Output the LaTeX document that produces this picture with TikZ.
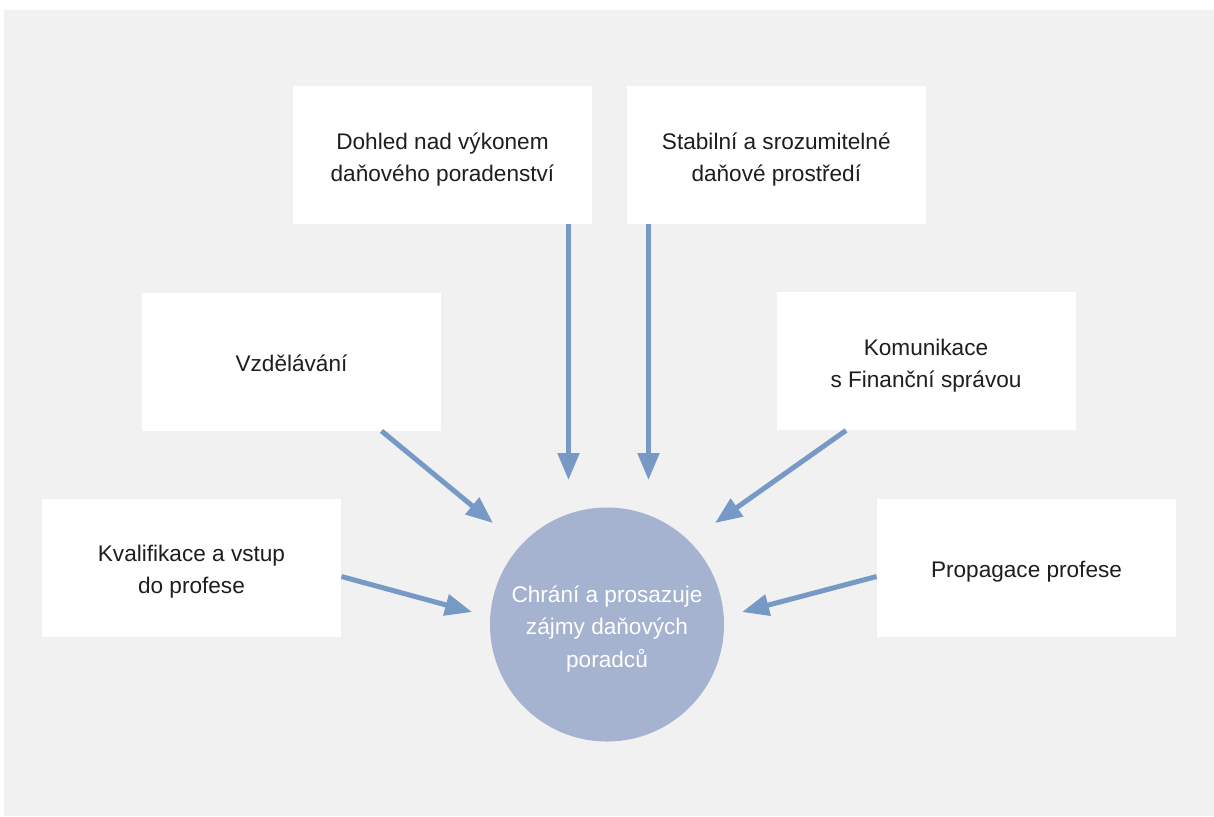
\documentclass[tikz,border=0pt]{standalone}
\usepackage{fontspec}
\setmainfont{Liberation Sans}
\usetikzlibrary{arrows.meta,positioning}
\definecolor{paper}{HTML}{F1F1F1}
\definecolor{ink}{HTML}{1E1E1E}
\definecolor{hubblue}{HTML}{A5B2D0}
\definecolor{arrowblue}{HTML}{7699C6}
\newcommand\boxstrut{\rule[-2pt]{0pt}{14pt}}
\newcommand\highstrut{\rule{0pt}{12.5pt}}

\begin{document}
\begin{tikzpicture}[x=0.5pt,y=-0.5pt,>={Triangle[length=13.5pt,width=10.5pt]},
	every node/.style={font=\fontsize{11.3pt}{16pt}\selectfont, execute at begin node=\boxstrut, execute at end node=\boxstrut},
	topic/.style={shape=rectangle, fill=white, text=ink, minimum width=149.5pt, minimum height=69pt, inner sep=0pt, align=center},
	hub/.style={shape=circle, fill=hubblue, text=white, minimum size=117pt, inner sep=0pt, align=center, font=\fontsize{11.3pt}{16.25pt}\selectfont},
	pull/.style={->, draw=arrowblue, line width=2.5pt}]
	% page and background
	\fill[white] (0,0) rectangle (1214,816);
	\fill[paper] (4,10) rectangle (1214,816);

	% create the nodes
	\node (hub)[hub] at (607,624.5) {\highstrut Chrání a prosazuje\\zájmy daňových\\poradců};
	\node (dohled)[topic] at (442.5,155) {\highstrut Dohled nad výkonem\\daňového poradenství};
	\node (stabil)[topic, right=17pt of dohled] {\highstrut Stabilní a srozumitelné\\daňové prostředí};
	\node (vzdel)[topic] at (291.5,361.5) {Vzdělávání};
	\node (komun)[topic] at (926,361) {\highstrut Komunikace\\s Finanční správou};
	\node (kvalif)[topic] at (191.5,567.5) {\highstrut Kvalifikace a vstup\\do profese};
	\node (propag)[topic] at (1026.5,567.5) {Propagace profese};

	% arrow tips, short of the circle
	\coordinate (tipA) at (568.5,480);
	\coordinate (tipB) at (648.5,480);
	\coordinate (tipC) at (493,523);
	\coordinate (tipD) at (715,523);
	\coordinate (tipE) at (472,612);
	\coordinate (tipF) at (742,612);

	% connect the nodes
	\draw[pull] (dohled.south -| tipA) -- (tipA);
	\draw[pull] (stabil.south -| tipB) -- (tipB);
	\draw[pull] ([xshift=45pt]vzdel.south) -- (tipC);
	\draw[pull] ([xshift=-40pt]komun.south) -- (tipD);
	\draw[pull] ([yshift=-4.5pt]kvalif.east) -- (tipE);
	\draw[pull] ([yshift=-4.5pt]propag.west) -- (tipF);
\end{tikzpicture}
\end{document}
